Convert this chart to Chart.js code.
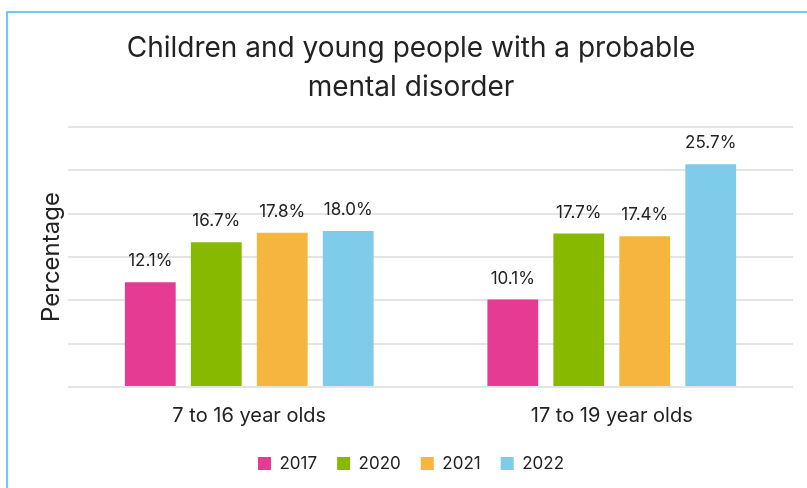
<!DOCTYPE html>
<html lang="en">
<head>
    <meta charset="UTF-8">
    <title>Probable mental disorder</title>
    <script src="https://cdn.jsdelivr.net/npm/chart.js@4"></script>
    <style>
      html, body { margin: 0; padding: 0; background: #fff; overflow: hidden; }
      .frame {
        position: absolute; left: 6px; top: 11px; width: 900px; height: 600px;
        border: 2px solid #6ccbee; box-sizing: border-box;
      }
      .wrap { position: absolute; left: 0; top: 0; width: 807px; height: 488px; }
    </style>
</head>
<body>
    <div class="frame"></div>
    <div class="wrap"><canvas id="mh-chart" width="807" height="488"></canvas></div>
    <script>
      const ageGroups = ['7 to 16 year olds', '17 to 19 year olds'];
      const years = ['2017', '2020', '2021', '2022'];
      const yearColours = ['#e63b92', '#86b900', '#f6b53f', '#7ecbea'];
      // percentage per year, one entry per age group
      const rates = {
        '2017': [12.1, 10.1],
        '2020': [16.7, 17.7],
        '2021': [17.8, 17.4],
        '2022': [18.0, 25.7]
      };

      const FONT = 'Inter, "Open Sans", sans-serif';
      const INK = '#222';

      // writes the value above each bar
      const barValues = {
        id: 'barValues',
        afterDatasetsDraw(chart) {
          const ctx = chart.ctx;
          ctx.save();
          ctx.font = '17px ' + FONT;
          ctx.fillStyle = INK;
          ctx.textAlign = 'center';
          ctx.textBaseline = 'middle';
          chart.data.datasets.forEach((ds, i) => {
            chart.getDatasetMeta(i).data.forEach((bar, j) => {
              ctx.fillText(ds.data[j].toFixed(1) + '%', bar.x, bar.y - 21);
            });
          });
          ctx.restore();
        }
      };

      const ctx = document.getElementById('mh-chart').getContext('2d');
      new Chart(ctx, {
        type: 'bar',
        data: {
          labels: ageGroups,
          datasets: years.map((y, i) => ({
            label: y,
            data: rates[y],
            backgroundColor: yearColours[i],
            categoryPercentage: 0.728,
            barPercentage: 0.77
          }))
        },
        options: {
          responsive: false,
          animation: false,
          layout: { padding: { left: 29, right: 14, top: 29, bottom: 6 } },
          plugins: {
            title: {
              display: true,
              text: ['Children and young people with a probable', 'mental disorder'],
              color: INK,
              font: { family: FONT, size: 28, weight: 'normal', lineHeight: 1.4 },
              padding: { top: 0, bottom: 19.6 }
            },
            legend: {
              position: 'bottom',
              labels: {
                color: INK,
                font: { family: FONT, size: 17 },
                boxWidth: 13,
                boxHeight: 13,
                padding: 20
              }
            },
            tooltip: { enabled: false }
          },
          scales: {
            x: {
              // marks hidden, tick length only spaces the labels
              grid: { display: false, drawTicks: true, tickLength: 10 },
              border: { display: false },
              ticks: { color: INK, font: { family: FONT, size: 20, lineHeight: 1.2 }, padding: 7 }
            },
            y: {
              min: 0,
              max: 30,
              ticks: { display: false, stepSize: 5 },
              grid: { color: '#e4e4e4', lineWidth: 2, drawTicks: false },
              border: { display: false },
              title: {
                display: true,
                text: 'Percentage',
                color: INK,
                font: { family: FONT, size: 24, lineHeight: 1.2 },
                padding: { top: 8.6, bottom: 1.6 }
              }
            }
          }
        },
        plugins: [barValues]
      });
    </script>
</body>
</html>
